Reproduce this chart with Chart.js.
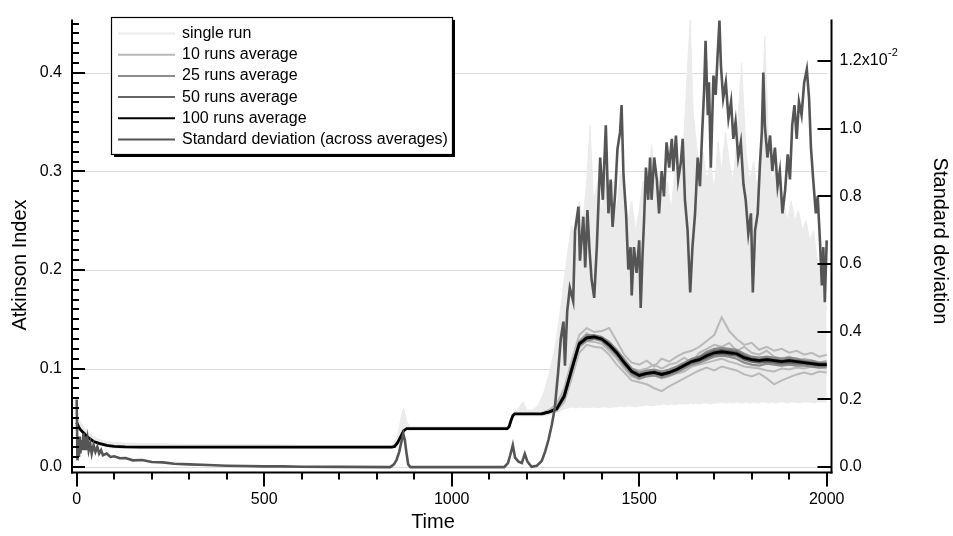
<!DOCTYPE html>
<html><head><meta charset="utf-8">
<script src="https://cdn.jsdelivr.net/npm/chart.js@4.4.1/dist/chart.umd.min.js"></script>
<style>html,body{margin:0;padding:0;background:#fff;}#wrap{width:953px;height:536px;}</style>
</head><body><div id="wrap"><canvas id="c" width="953" height="536"></canvas></div>
<script>
const FONT = '"Liberation Sans", Arial, Helvetica, sans-serif';

// ---- tick labels ----
const timeTicks = [0, 500, 1000, 1500, 2000];
const atkTicks = [0, 0.1, 0.2, 0.3, 0.4];
const sdTicks = [0, 0.2, 0.4, 0.6, 0.8, 1.0, 1.2];   // standard deviation in units of 10^-2
const legendLabels = ['single run', '10 runs average', '25 runs average', '50 runs average', '100 runs average', 'Standard deviation (across averages)'];

// ---- 100 runs average (Atkinson index) ----
const t100 = [0,5,10,20,30,45,60,80,100,130,
  170,250,840,848,856,864,872,880,890,1148,
  1153,1158,1163,1168,1180,1230,1240,1260,1280,1300,
  1320,1340,1360,1380,1400,1420,1440,1460,1480,1500,
  1520,1540,1560,1580,1600,1620,1640,1660,1680,1700,
  1720,1740,1760,1780,1800,1820,1840,1860,1880,1900,
  1920,1940,1960,1980,2000];
const avg100 = [0.045,0.041,0.038,0.034,0.030,0.026,0.024,0.022,0.021,0.0205,
  0.0203,0.0203,0.0203,0.021,0.025,0.031,0.037,0.039,0.039,0.039,
  0.041,0.047,0.052,0.054,0.054,0.054,0.054,0.056,0.059,0.072,
  0.099,0.125,0.131,0.132,0.130,0.124,0.116,0.106,0.097,0.093,
  0.095,0.096,0.094,0.096,0.099,0.103,0.107,0.109,0.113,0.116,
  0.117,0.116,0.115,0.111,0.109,0.108,0.109,0.108,0.107,0.108,
  0.107,0.106,0.105,0.104,0.104];

// ---- 10 / 25 / 50 runs averages (after the deterministic phase) ----
const tLate = [1240,1260,1280,1300,1320,1340,1360,1380,1400,1420,
  1440,1460,1480,1500,1520,1540,1560,1580,1600,1620,
  1640,1660,1680,1700,1720,1740,1760,1780,1800,1820,
  1840,1860,1880,1900,1920,1940,1960,1980,2000];
const avg10a = [0.055,0.058,0.064,0.080,0.108,0.134,0.141,0.137,0.138,0.141,
  0.128,0.114,0.106,0.104,0.108,0.102,0.110,0.107,0.112,0.116,
  0.118,0.122,0.128,0.134,0.152,0.138,0.130,0.124,0.126,0.119,
  0.122,0.118,0.120,0.116,0.118,0.114,0.116,0.112,0.114];
const avg10b = [0.053,0.055,0.057,0.066,0.090,0.116,0.124,0.122,0.121,0.114,
  0.104,0.096,0.088,0.086,0.084,0.080,0.077,0.082,0.086,0.090,
  0.094,0.098,0.101,0.098,0.102,0.100,0.098,0.094,0.092,0.095,
  0.090,0.084,0.088,0.091,0.094,0.096,0.094,0.097,0.096];
const avg10c = [0.054,0.057,0.061,0.075,0.102,0.128,0.136,0.131,0.128,0.121,
  0.118,0.110,0.100,0.098,0.100,0.104,0.100,0.104,0.106,0.111,
  0.106,0.116,0.120,0.124,0.122,0.126,0.118,0.122,0.116,0.114,
  0.118,0.112,0.110,0.112,0.108,0.110,0.108,0.106,0.108];
const avg10d = [0.054,0.056,0.058,0.070,0.096,0.121,0.128,0.127,0.125,0.118,
  0.110,0.100,0.092,0.089,0.092,0.093,0.090,0.092,0.095,0.097,
  0.102,0.104,0.106,0.108,0.110,0.107,0.105,0.102,0.101,0.100,
  0.098,0.097,0.100,0.099,0.101,0.100,0.102,0.101,0.100];
const avg25a = [0.054,0.056,0.060,0.074,0.101,0.127,0.134,0.134,0.132,0.127,
  0.119,0.109,0.100,0.096,0.098,0.099,0.097,0.099,0.102,0.106,
  0.110,0.112,0.117,0.120,0.121,0.120,0.119,0.115,0.112,0.111,
  0.112,0.111,0.110,0.111,0.110,0.108,0.108,0.106,0.106];
const avg25b = [0.054,0.056,0.058,0.070,0.097,0.123,0.128,0.130,0.128,0.121,
  0.113,0.103,0.094,0.090,0.092,0.093,0.091,0.093,0.096,0.100,
  0.104,0.106,0.109,0.112,0.113,0.112,0.110,0.106,0.104,0.103,
  0.105,0.104,0.103,0.104,0.103,0.103,0.102,0.101,0.102];
const avg50a = [0.054,0.056,0.059,0.073,0.100,0.126,0.132,0.133,0.131,0.125,
  0.117,0.107,0.098,0.094,0.096,0.097,0.095,0.097,0.100,0.104,
  0.108,0.111,0.115,0.118,0.119,0.118,0.117,0.113,0.110,0.109,
  0.110,0.109,0.108,0.109,0.108,0.107,0.106,0.105,0.105];
const avg50b = [0.054,0.056,0.059,0.071,0.098,0.124,0.130,0.131,0.129,0.123,
  0.115,0.105,0.096,0.092,0.094,0.095,0.093,0.095,0.098,0.102,
  0.106,0.108,0.111,0.114,0.115,0.114,0.113,0.109,0.107,0.106,
  0.107,0.106,0.105,0.106,0.105,0.105,0.104,0.103,0.103];

// ---- single runs: envelope of the individual runs ----
const tSingle = [0,10,20,30,45,60,80,100,150,200,
  300,400,500,600,700,800,840,855,865,872,
  880,890,1000,1150,1158,1165,1175,1190,1200,1215,
  1230,1245,1260,1275,1290,1300,1310,1320,1330,1340,
  1350,1360,1369,1378,1390,1400,1410,1420,1430,1440,
  1450,1460,1470,1480,1490,1500,1510,1520,1533,1545,
  1555,1565,1575,1585,1595,1605,1617,1628,1636,1644,
  1652,1660,1670,1680,1690,1700,1710,1720,1730,1740,
  1750,1760,1773,1785,1795,1805,1815,1825,1835,1845,
  1855,1865,1875,1885,1895,1905,1915,1925,1935,1945,
  1955,1965,1975,1985,1995,2000];
const singleHigh = [0.050,0.046,0.040,0.036,0.031,0.028,0.026,0.025,0.024,0.024,
  0.023,0.023,0.023,0.022,0.022,0.022,0.022,0.030,0.050,0.060,
  0.046,0.041,0.041,0.041,0.052,0.056,0.058,0.066,0.058,0.058,
  0.062,0.075,0.095,0.120,0.160,0.190,0.220,0.245,0.230,0.270,
  0.250,0.290,0.347,0.270,0.290,0.260,0.300,0.270,0.290,0.260,
  0.300,0.280,0.250,0.270,0.240,0.260,0.290,0.270,0.327,0.280,
  0.300,0.270,0.290,0.260,0.300,0.280,0.317,0.400,0.454,0.360,
  0.330,0.300,0.320,0.290,0.310,0.280,0.330,0.300,0.340,0.310,
  0.290,0.330,0.410,0.320,0.290,0.310,0.280,0.330,0.437,0.330,
  0.290,0.310,0.280,0.270,0.250,0.270,0.250,0.260,0.240,0.250,
  0.230,0.240,0.210,0.190,0.170,0.160];
const singleLow = [0.040,0.036,0.031,0.027,0.024,0.022,0.020,0.019,0.019,0.019,
  0.019,0.019,0.019,0.019,0.019,0.019,0.019,0.021,0.028,0.035,
  0.037,0.037,0.037,0.037,0.044,0.051,0.052,0.052,0.052,0.052,
  0.052,0.052,0.053,0.055,0.057,0.059,0.060,0.061,0.060,0.061,
  0.060,0.061,0.060,0.061,0.060,0.061,0.061,0.060,0.061,0.061,
  0.062,0.061,0.062,0.062,0.061,0.062,0.062,0.063,0.062,0.063,
  0.063,0.064,0.063,0.064,0.063,0.064,0.064,0.064,0.065,0.064,
  0.065,0.064,0.065,0.065,0.064,0.065,0.065,0.066,0.065,0.066,
  0.065,0.066,0.065,0.066,0.065,0.066,0.065,0.066,0.066,0.065,
  0.066,0.065,0.066,0.066,0.065,0.066,0.066,0.065,0.066,0.066,
  0.066,0.065,0.066,0.066,0.066,0.066];

// ---- standard deviation across averages (units of 10^-2, right axis) ----
const tStd = [0,2,4,6,8,10,12,15,18,20,
  23,26,29,32,36,40,45,50,55,60,
  65,70,80,90,100,115,130,150,175,200,
  230,260,300,350,400,450,500,550,600,700,
  836,846,853,860,866,871,875,879,884,890,
  1140,1150,1156,1163,1169,1178,1187,1195,1202,1213,
  1227,1240,1249,1258,1267,1275,1284,1291,1298,1302,
  1308,1315,1324,1329,1338,1342,1351,1356,1362,1367,
  1373,1380,1387,1396,1403,1411,1418,1424,1429,1436,
  1442,1449,1453,1458,1465,1471,1477,1480,1486,1493,
  1500,1504,1509,1513,1518,1524,1529,1533,1540,1547,
  1553,1560,1566,1573,1580,1587,1591,1598,1604,1611,
  1616,1622,1629,1636,1642,1649,1656,1662,1668,1673,
  1677,1683,1686,1691,1698,1704,1709,1714,1718,1724,
  1731,1738,1745,1751,1757,1764,1771,1778,1784,1791,
  1798,1803,1809,1816,1822,1827,1831,1835,1842,1849,
  1855,1862,1869,1875,1882,1889,1896,1902,1908,1914,
  1920,1926,1933,1940,1947,1953,1958,1964,1971,1976,
  1982,1987,1991,1995,2000];
const stdDevE2 = [0.20,0.02,0.07,0.03,0.09,0.04,0.08,0.05,0.10,0.05,
  0.09,0.05,0.08,0.05,0.07,0.04,0.065,0.045,0.06,0.04,
  0.05,0.035,0.04,0.03,0.032,0.026,0.027,0.02,0.021,0.015,
  0.014,0.01,0.008,0.006,0.004,0.003,0.002,0.002,0.001,0.0005,
  0,0.008,0.021,0.045,0.075,0.098,0.08,0.045,0.008,0,
  0,0.012,0.035,0.065,0.028,0.016,0.012,0.039,0.016,0.001,
  0.004,0.018,0.045,0.08,0.125,0.175,0.283,0.38,0.43,0.30,
  0.46,0.53,0.49,0.70,0.77,0.61,0.74,0.59,0.76,0.65,
  0.555,0.50,0.65,0.915,0.79,1.01,0.75,0.85,0.71,0.81,
  0.94,0.99,1.07,0.865,0.75,0.584,0.65,0.507,0.65,0.574,
  0.67,0.47,0.63,0.73,0.885,0.79,0.915,0.79,0.915,0.85,
  0.75,0.875,0.80,0.96,0.885,0.97,0.875,0.98,0.85,0.90,
  0.97,0.79,0.70,0.516,0.65,0.75,0.915,0.83,0.99,1.11,
  1.26,1.04,1.137,0.885,1.157,1.10,1.215,1.32,1.186,1.09,
  1.137,1.03,1.08,0.97,1.02,0.915,0.96,0.836,0.79,0.69,
  0.75,0.516,0.70,0.75,0.895,0.99,1.166,1.01,0.915,0.98,
  0.875,0.944,0.83,0.875,0.75,0.817,0.924,0.85,1.01,1.07,
  0.97,1.08,1.04,1.137,1.176,1.09,0.944,0.85,0.75,0.80,
  0.67,0.537,0.65,0.487,0.67];

function pts(ts, vs) { return ts.map((t, i) => ({ x: t, y: vs[i] })); }

const C_SINGLE = '#ebebeb', C10 = '#b9b9b9', C25 = '#8c8c8c', C50 = '#666666', C100 = '#000000', CSD = '#555555';
function lineDs(label, ts, vs, color, width, order, axis) {
  return { label, data: pts(ts, vs), borderColor: color, backgroundColor: color, borderWidth: width,
    pointRadius: 0, tension: 0, fill: false, order, yAxisID: axis || 'yL' };
}

const datasets = [
  lineDs(legendLabels[5], tStd, stdDevE2, CSD, 2.6, 0, 'yR'),
  lineDs(legendLabels[4], t100, avg100, C100, 2.8, 1),
  lineDs(legendLabels[3], tLate, avg50a, C50, 2.2, 2),
  lineDs(legendLabels[3], tLate, avg50b, C50, 2.2, 2),
  lineDs(legendLabels[2], tLate, avg25a, C25, 2.2, 3),
  lineDs(legendLabels[2], tLate, avg25b, C25, 2.2, 3),
  lineDs(legendLabels[1], tLate, avg10a, C10, 2, 4),
  lineDs(legendLabels[1], tLate, avg10b, C10, 2, 4),
  lineDs(legendLabels[1], tLate, avg10c, C10, 2, 4),
  lineDs(legendLabels[1], tLate, avg10d, C10, 2, 4),
  Object.assign(lineDs(legendLabels[0], tSingle, singleHigh, C_SINGLE, 1, 5), { fill: '+1', backgroundColor: C_SINGLE }),
  lineDs(legendLabels[0], tSingle, singleLow, C_SINGLE, 1, 6)
];
const legendIdx = [10, 6, 4, 2, 1, 0];

const decor = {
  id: 'decor',
  beforeDatasetsDraw(chart) {
    const { ctx, scales: { x, yL } } = chart;
    ctx.save();
    ctx.strokeStyle = '#dcdcdc'; ctx.lineWidth = 1;
    atkTicks.forEach(v => {
      const y = Math.round(yL.getPixelForValue(v)) + 0.5;
      ctx.beginPath(); ctx.moveTo(x.getPixelForValue(0), y); ctx.lineTo(x.getPixelForValue(2000), y); ctx.stroke();
    });
    ctx.restore();
  },
  afterDatasetsDraw(chart) {
    const { ctx, chartArea: ca, scales: { x, yL, yR } } = chart;
    ctx.save();
    ctx.strokeStyle = '#000'; ctx.lineWidth = 2; ctx.lineCap = 'butt';
    const seg = (x1, y1, x2, y2) => { ctx.beginPath(); ctx.moveTo(x1, y1); ctx.lineTo(x2, y2); ctx.stroke(); };
    // axis lines
    seg(ca.left, ca.top, ca.left, ca.bottom + 1);
    seg(ca.left - 1, ca.bottom, ca.right + 1, ca.bottom);
    seg(ca.right, ca.top, ca.right, ca.bottom + 1);
    // left ticks (inward)
    for (let k = 0; k <= 45; k++) {
      const y = Math.round(yL.getPixelForValue(k / 100));
      seg(ca.left, y, ca.left + (k % 10 === 0 ? 13 : 7), y);
    }
    // bottom ticks (outward)
    for (let k = 0; k <= 20; k++) {
      const xp = Math.round(x.getPixelForValue(k * 100));
      seg(xp, ca.bottom, xp, ca.bottom + (k % 5 === 0 ? 14 : 7));
    }
    // right ticks (inward)
    sdTicks.forEach(v => { const y = Math.round(yR.getPixelForValue(v)); seg(ca.right, y, ca.right - 14, y); });
    // exponent of the top right tick label
    ctx.fillStyle = '#000';
    ctx.font = '16px ' + FONT;
    const w = ctx.measureText('1.2x10').width;
    ctx.font = '11px ' + FONT;
    ctx.textBaseline = 'middle'; ctx.textAlign = 'left';
    ctx.fillText('-2', ca.right + 8 + w + 0.5, yR.getPixelForValue(1.2) - 8);
    // axis titles
    ctx.font = '20px ' + FONT; ctx.textAlign = 'center'; ctx.textBaseline = 'middle';
    ctx.fillText('Time', 433, 522);
    ctx.save(); ctx.translate(20, 265); ctx.rotate(-Math.PI / 2); ctx.fillText('Atkinson Index', 0, 0); ctx.restore();
    ctx.save(); ctx.translate(940, 241); ctx.rotate(Math.PI / 2); ctx.fillText('Standard deviation', 0, 0); ctx.restore();
    // legend
    const L = { x: 111.5, y: 17.5, w: 341, h: 137 };
    ctx.fillStyle = '#000'; ctx.fillRect(L.x + 2.5, L.y + 2.5, L.w, L.h);
    ctx.fillStyle = '#fff'; ctx.fillRect(L.x, L.y, L.w, L.h);
    ctx.lineWidth = 1.2; ctx.strokeStyle = '#000'; ctx.strokeRect(L.x, L.y, L.w, L.h);
    ctx.font = '16px ' + FONT; ctx.textAlign = 'left'; ctx.textBaseline = 'middle';
    legendIdx.forEach((di, i) => {
      const ds = chart.data.datasets[di];
      const y = 33.5 + i * 21.2;
      ctx.strokeStyle = ds.borderColor; ctx.lineWidth = 2;
      seg(118, y, 175, y);
      ctx.fillStyle = '#000'; ctx.fillText(legendLabels[i], 182, y);
    });
    ctx.restore();
  }
};

const tickFont = { family: FONT, size: 16 };
new Chart(document.getElementById('c'), {
  type: 'line',
  data: { datasets },
  options: {
    responsive: false, animation: false, devicePixelRatio: 1,
    layout: { padding: { top: 13, left: 0, right: 0, bottom: 0 } },
    plugins: { legend: { display: false }, tooltip: { enabled: false } },
    scales: {
      x: {
        type: 'linear', position: 'bottom', min: -12.5, max: 2012.8,
        afterBuildTicks: s => { s.ticks = timeTicks.map(v => ({ value: v })); },
        afterFit: s => { s.height = 63.5; },
        grid: { display: false, drawTicks: false, tickLength: 0 }, border: { display: false },
        ticks: { font: tickFont, color: '#000', padding: 17, maxRotation: 0, autoSkip: false, callback: v => String(v) }
      },
      yL: {
        type: 'linear', position: 'left', min: -0.0055, max: 0.454,
        afterBuildTicks: s => { s.ticks = atkTicks.map(v => ({ value: v })); },
        afterFit: s => { s.width = 72; },
        grid: { display: false, drawTicks: false, tickLength: 0 }, border: { display: false },
        ticks: { font: tickFont, color: '#000', padding: 10, autoSkip: false, callback: v => v.toFixed(1) }
      },
      yR: {
        type: 'linear', position: 'right', min: -0.016, max: 1.3226,
        afterBuildTicks: s => { s.ticks = sdTicks.map(v => ({ value: v })); },
        afterFit: s => { s.width = 121.5; },
        grid: { display: false, drawTicks: false, tickLength: 0 }, border: { display: false },
        ticks: { font: tickFont, color: '#000', padding: 8, autoSkip: false,
          callback: (v, i) => i === sdTicks.length - 1 ? '1.2x10' : v.toFixed(1) }
      }
    }
  },
  plugins: [decor]
});
</script>
</body></html>
